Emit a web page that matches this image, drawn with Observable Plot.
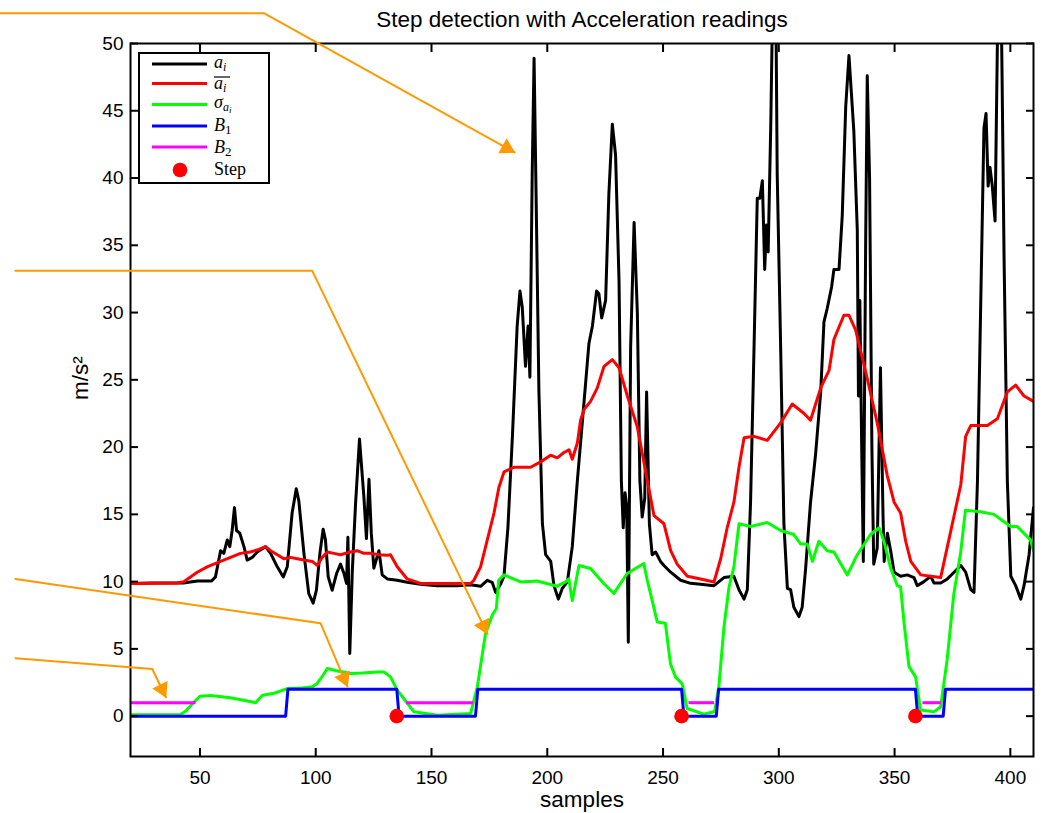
<!DOCTYPE html>
<html><head><meta charset="utf-8">
<script src="https://cdn.jsdelivr.net/npm/d3@7"></script>
<script src="https://cdn.jsdelivr.net/npm/@observablehq/plot@0.6"></script>
<style>body{margin:0;background:#fff;} #chart{width:1043px;height:813px;}</style>
</head><body><div id="chart"></div>
<script>
// ---- data ----
const xTicks = [50,100,150,200,250,300,350,400];
const yTicks = [0,5,10,15,20,25,30,35,40,45,50];

const aiX = [20,30,40,43,45,49,55,56.7,58.9,60.3,61.8,62.9,63.9,64.9,65.8,67.2,69,70.4,72.6,74.7,78.3,80.5,83.4,86,87.7,89.8,91.6,92.7,94.9,97,98.9,100.3,101.8,103.2,104.2,105.4,107.1,109,110.7,112.2,113.3,113.9,114.7,115.8,117.2,118.9,120.8,121.9,123,124,125.1,127.3,128.7,130.9,135.2,139.5,145.3,152.5,161.1,166.9,171.2,174.1,176.2,177.7,179.8,181.3,183,185,187,188.2,189.2,190.6,191.7,192.5,193.5,194.3,195.3,196.4,197.9,199.3,201.5,202.9,204.8,206.5,208.7,210.8,213,215.9,218,219.5,221.3,222.3,223.5,225.2,226.6,228.1,229.5,231,232,232.8,233.6,234.3,235,236,237.5,238.9,240,241,242.1,242.9,244.1,245.3,246.8,248.9,250.4,253.3,257.6,261.9,266.2,272,276.3,280.6,282.8,285,286.4,287.8,289.3,290.7,291.8,292.9,293.9,294.7,295.4,296.5,297.6,298.6,299.3,300.8,302.2,303.7,305.1,306.5,308.7,310.1,311.6,313.7,315.9,318.1,319.5,320.9,322.8,323.8,326,327.4,328.9,330.3,332.4,333.9,334.4,335,335.8,336.5,337.5,338.2,339.2,340.2,341,342.5,343.9,345,345.5,346.9,348.3,349.8,352.6,355.5,358.4,359.8,362.7,365.6,367,369.9,372.8,375.7,378.6,380.7,382.9,384.3,385.8,387.2,388.6,389.5,390.4,391.2,392.2,393.4,394.4,395.2,395.8,396.4,397.3,398.7,400.2,402.3,404.5,405.9,408.1,410];
const aiY = [9.86,9.9,9.9,9.9,9.95,10.05,10.05,10.35,12.3,12.1,13.1,12.6,13.8,15.5,13.8,13.6,12.6,11.6,11.8,12.2,12.6,12.1,11.1,10.35,11.1,15.1,16.9,16.0,12.1,9.1,8.4,9.36,12.1,13.9,13.1,10.35,9.36,10.6,11.3,10.6,9.86,13.3,4.66,10.8,15.8,20.6,16.3,13.2,17.6,13.6,11.0,12.3,10.5,10.2,10.1,9.95,9.8,9.7,9.7,9.77,9.65,10.1,9.95,9.2,9.8,10.4,14,21,29,31.6,30.4,26,29.0,25.2,40.4,48.9,37.2,24.1,14.3,12.0,11.5,9.7,8.7,9.5,10.0,12.6,17.5,23.4,27.7,29.0,31.6,31.4,29.6,30.9,38.8,44.0,41.7,32.3,17.5,14.0,16.6,15.6,5.5,27.4,36.7,30,17.5,14.8,16.2,24.1,14.3,12.0,12.2,11.5,11.2,10.7,10.1,9.87,9.8,9.7,10.3,10.4,9.4,8.7,9.4,15.9,27.4,38.5,38.5,39.8,33.2,36.5,34.5,43.7,56,56,40.4,27.4,14.3,9.5,9.4,8.1,7.4,8.1,11.0,15.9,19.5,24.1,29.3,30.3,31.9,33.2,33.2,37.2,45.3,49.1,43.5,36.1,23.8,30.9,20,11.5,35,47.6,40,20,11.3,12.5,25.9,15,11.5,13.6,12.3,10.7,10.4,10.5,10.3,9.7,10.0,10.4,9.9,9.9,10.2,10.7,11.2,10.7,9.4,9.2,17.5,30.6,43.7,44.8,39.4,40.8,39.4,36.8,50,56,56,48,33.9,17.5,10.4,9.7,8.7,9.7,12.0,15.5];

const meanX = [20,40.2,43,45.9,48.8,53.1,58.9,63.2,67.5,71.8,75.4,78.3,80.5,83.4,86.2,89.1,92,94.9,98.5,100.6,102.8,105,107.8,110.7,115,117.9,120.8,123.7,127.3,130.9,132.3,135.2,139.5,145.3,166.9,168.3,171.2,174.1,177,179.1,181.3,185.6,192.8,197.1,201.4,204.3,207.2,209.4,210.8,213,214.4,215.9,218.7,221.6,224.5,228.1,231,234.6,238.9,243,246.1,250.4,253.3,256.1,260.5,266.2,272,274.9,277.7,280.6,282.8,285,289.3,295,300.8,305.8,310.9,313.7,318.1,321.7,323.8,328.1,330.3,333.2,338.2,342.5,346.8,349.8,352.6,354.8,357,361.3,365.6,369.9,372.8,375.7,378.6,380.7,382.9,390.1,394.4,398.7,402.3,405.9,410];
const meanY = [9.86,9.9,10.0,10.35,10.7,11.1,11.5,11.8,12.1,12.2,12.4,12.6,12.3,12.0,11.7,11.8,11.7,11.6,11.5,11.2,11.8,12.2,12.1,12.0,12.2,12.3,12.1,12.1,12.0,11.96,12.0,11.1,10.2,9.86,9.86,10.1,11.1,13.1,15.1,17.0,18.15,18.5,18.5,18.9,19.4,19.2,19.6,19.8,19.1,20.3,22,22.8,23.4,24.4,26.0,26.5,25.9,23.8,21.5,17.7,14.9,14.3,12.3,11.3,10.4,10.2,9.97,11.7,14.0,15.9,18.5,20.7,20.8,20.5,21.8,23.2,22.5,22.0,24.4,25.7,28.0,29.8,29.8,28.7,25.1,21.8,17.9,15.9,15.1,13.0,11.5,10.5,10.4,10.3,12.6,14.9,17.2,20.8,21.6,21.6,22.1,24.1,24.6,23.8,23.4];

const sigmaX = [20,41.6,44,47,50,54.6,63,70,74,77,82,88,94,98.5,100.6,103,105,109,115,120,127,129.4,132.3,135.2,138,142.4,152.5,166.9,169.8,173.3,176.2,178,179,181.3,188.5,195.6,204.3,207.9,209.3,210.8,213.7,218.7,224.4,228.8,234.5,241.7,243.2,245.3,247.5,251,253.2,255.4,258.3,260.4,267.6,272.3,274.1,276.3,278.5,280.6,282.8,287.8,295,300.8,306.5,309.4,312.3,314.5,317.3,320.9,323.8,329.6,333.9,339.6,343.3,345.4,348.3,351.2,352.6,354,356.2,359.1,361.2,367,369.9,372.7,375.6,378.5,380.6,387.1,392.9,400.1,403,408.7,410];
const sigmaY = [0.1,0.13,0.4,0.97,1.48,1.54,1.36,1.15,0.99,1.56,1.7,2.06,2.1,2.18,2.43,3.0,3.54,3.37,3.17,3.2,3.29,3.29,2.92,1.93,1.31,0.32,0.07,0.2,2.18,6.1,7.5,8.0,10.1,10.5,9.98,10.05,9.66,9.98,10.2,8.6,11.2,10.97,9.86,9.12,10.6,11.34,10.1,8.6,7.0,6.9,3.9,2.9,2.4,0.57,0.15,0.35,2.2,6.6,9.6,11.1,14.3,14.1,14.4,13.8,13.5,12.8,12.8,11.5,13.0,12.3,12.2,10.5,12.0,13.5,14.0,13.0,11.0,9.7,9.6,7.1,3.7,2.9,0.45,0.32,0.7,4.2,9.1,12.1,15.3,15.2,15.0,14.1,14.1,13.1,12.3];

const b1X = [20,87,88,135,136,169,170,258,259,273,274,359,360,371,372,410];
const b1Y = [0,0,2,2,0,0,2,2,0,0,2,2,0,0,2,2];

const b2Start = [20,139,261,362];
const b2End   = [48,168,272,370];
const b2Level = 1;

const stepX = [135,258,359];
const stepY = [0,0,0];

// annotation arrows (data coordinates, drawn unclipped)
const arrowTop   = [[-36.2,52.25],[77.6,52.25],[185.9,41.9]];
const arrowMean  = [[-29.7,33.1],[98.5,33.1],[174.2,6.1]];
const arrowSigma = [[-29.7,10.2],[102.1,6.9],[113.7,2.2]];
const arrowB2    = [[-29.7,4.3],[29.4,3.5],[35.3,1.4]];

const title = "Step detection with Acceleration readings";
const xLabel = "samples";
const yLabel = "m/s²";

// ---- layout ----
const W = 1043, H = 813, mL = 130, mR = 10, mT = 43, mB = 57;
const xDomain = [20, 410], yDomain = [-3, 50];
const kx = (W - mL - mR) / (xDomain[1] - xDomain[0]);
const ky = (H - mT - mB) / (yDomain[1] - yDomain[0]);
const sans = "'Liberation Sans', Arial, Helvetica, sans-serif";
const orange = "#ff9900";

const pts = (xs, ys) => xs.map((x, i) => ({x, y: ys[i]}));
const arrows = [arrowTop, arrowMean, arrowSigma, arrowB2];
const arrowLines = arrows.flatMap((p, k) => p.map(([x, y]) => ({x, y, k})));
const heads = arrows.map(p => {
  const [x1, y1] = p[p.length - 2], [x2, y2] = p[p.length - 1];
  const dxp = (x2 - x1) * kx, dyp = -(y2 - y1) * ky;
  const len = Math.hypot(dxp, dyp), ux = dxp / len, uy = dyp / len, back = 9;
  return {x: x2 - ux * back / kx, y: y2 + uy * back / ky, angle: Math.atan2(ux, -uy) * 180 / Math.PI};
});
const b2Segs = b2Start.map((s, i) => ({x1: s, x2: b2End[i], y: b2Level}));

const chart = Plot.plot({
  width: W, height: H,
  marginLeft: mL, marginRight: mR, marginTop: mT, marginBottom: mB,
  style: {fontFamily: sans, fontSize: "19px", color: "#000", background: "#fff", overflow: "visible"},
  x: {domain: xDomain},
  y: {domain: yDomain},
  marks: [
    Plot.line(pts(aiX, aiY), {x: "x", y: "y", stroke: "#000", strokeWidth: 3, clip: true}),
    Plot.line(pts(meanX, meanY), {x: "x", y: "y", stroke: "#ff0000", strokeWidth: 3, clip: true}),
    Plot.line(pts(sigmaX, sigmaY), {x: "x", y: "y", stroke: "#00ff00", strokeWidth: 3, clip: true}),
    Plot.line(pts(b1X, b1Y), {x: "x", y: "y", stroke: "#0000ff", strokeWidth: 3, clip: true}),
    Plot.link(b2Segs, {x1: "x1", x2: "x2", y1: "y", y2: "y", stroke: "#ff00ff", strokeWidth: 3}),
    Plot.dot(pts(stepX, stepY), {x: "x", y: "y", r: 7.3, fill: "#ff0000", stroke: "none"}),
    Plot.frame({stroke: "#000", strokeWidth: 2}),
    Plot.axisX({anchor: "bottom", ticks: xTicks, tickSize: -8, tickPadding: 22, strokeWidth: 2, label: null}),
    Plot.axisX({anchor: "top", ticks: xTicks, tickSize: -8, strokeWidth: 2, fill: "none", label: null}),
    Plot.axisY({anchor: "left", ticks: yTicks, tickSize: -8, tickPadding: 15, strokeWidth: 2, label: null}),
    Plot.axisY({anchor: "right", ticks: yTicks, tickSize: -8, strokeWidth: 2, fill: "none", label: null}),
    Plot.text([title], {frameAnchor: "top", dy: -24, lineAnchor: "middle", fontSize: 22.5}),
    Plot.text([xLabel], {frameAnchor: "bottom", dy: 43, lineAnchor: "middle", fontSize: 22.5}),
    Plot.text([yLabel], {frameAnchor: "left", dx: -50, rotate: -90, lineAnchor: "middle", fontSize: 22.5}),
    Plot.line(arrowLines, {x: "x", y: "y", z: "k", stroke: orange, strokeWidth: 2}),
    Plot.dot(heads, {x: "x", y: "y", symbol: "triangle", r: 6.3, rotate: "angle", fill: orange, stroke: "none"})
  ]
});
document.getElementById("chart").append(chart);

// ---- legend (inside the axes, upper left) ----
const legendColors = ["#000", "#ff0000", "#00ff00", "#0000ff", "#ff00ff"];
const legendRows = [64, 83.5, 104.5, 126, 147];
const svg = d3.select(chart.tagName.toLowerCase() === "svg" ? chart : chart.querySelector("svg"));
const lg = svg.append("g").attr("font-family", "'Liberation Serif', 'DejaVu Serif', serif")
  .attr("fill", "#000").attr("text-anchor", "start");
lg.append("rect").attr("x", 139).attr("y", 53).attr("width", 130).attr("height", 130)
  .attr("fill", "#fff").attr("stroke", "#000").attr("stroke-width", 2);
legendColors.forEach((c, i) => {
  lg.append("line").attr("x1", 152).attr("x2", 207).attr("y1", legendRows[i]).attr("y2", legendRows[i])
    .attr("stroke", c).attr("stroke-width", 3);
});
lg.append("circle").attr("cx", 180).attr("cy", 170).attr("r", 7.3).attr("fill", "#ff0000");
function lab(x, y) { return lg.append("text").attr("x", x).attr("y", y).attr("font-size", 18).attr("text-anchor", "start"); }
// a_i
let t = lab(214, 68);
t.append("tspan").attr("font-style", "italic").text("a");
t.append("tspan").attr("font-style", "italic").attr("font-size", 12).attr("dy", 3).text("i");
// mean a_i
t = lab(214, 89);
t.append("tspan").attr("font-style", "italic").text("a");
t.append("tspan").attr("font-style", "italic").attr("font-size", 12).attr("dy", 3).text("i");
lg.append("line").attr("x1", 214).attr("x2", 230).attr("y1", 77).attr("y2", 77).attr("stroke", "#000").attr("stroke-width", 1.2);
// sigma_{a_i}
t = lab(214, 108);
t.append("tspan").attr("font-style", "italic").text("σ");
t.append("tspan").attr("font-style", "italic").attr("font-size", 12).attr("dy", 3).text("a");
t.append("tspan").attr("font-style", "italic").attr("font-size", 9).attr("dy", 2).text("i");
// B_1, B_2
t = lab(214, 131);
t.append("tspan").attr("font-style", "italic").text("B");
t.append("tspan").attr("font-size", 13).attr("dy", 3).text("1");
t = lab(214, 152.5);
t.append("tspan").attr("font-style", "italic").text("B");
t.append("tspan").attr("font-size", 13).attr("dy", 3).text("2");
// Step
lab(214, 175).text("Step");
</script></body></html>
